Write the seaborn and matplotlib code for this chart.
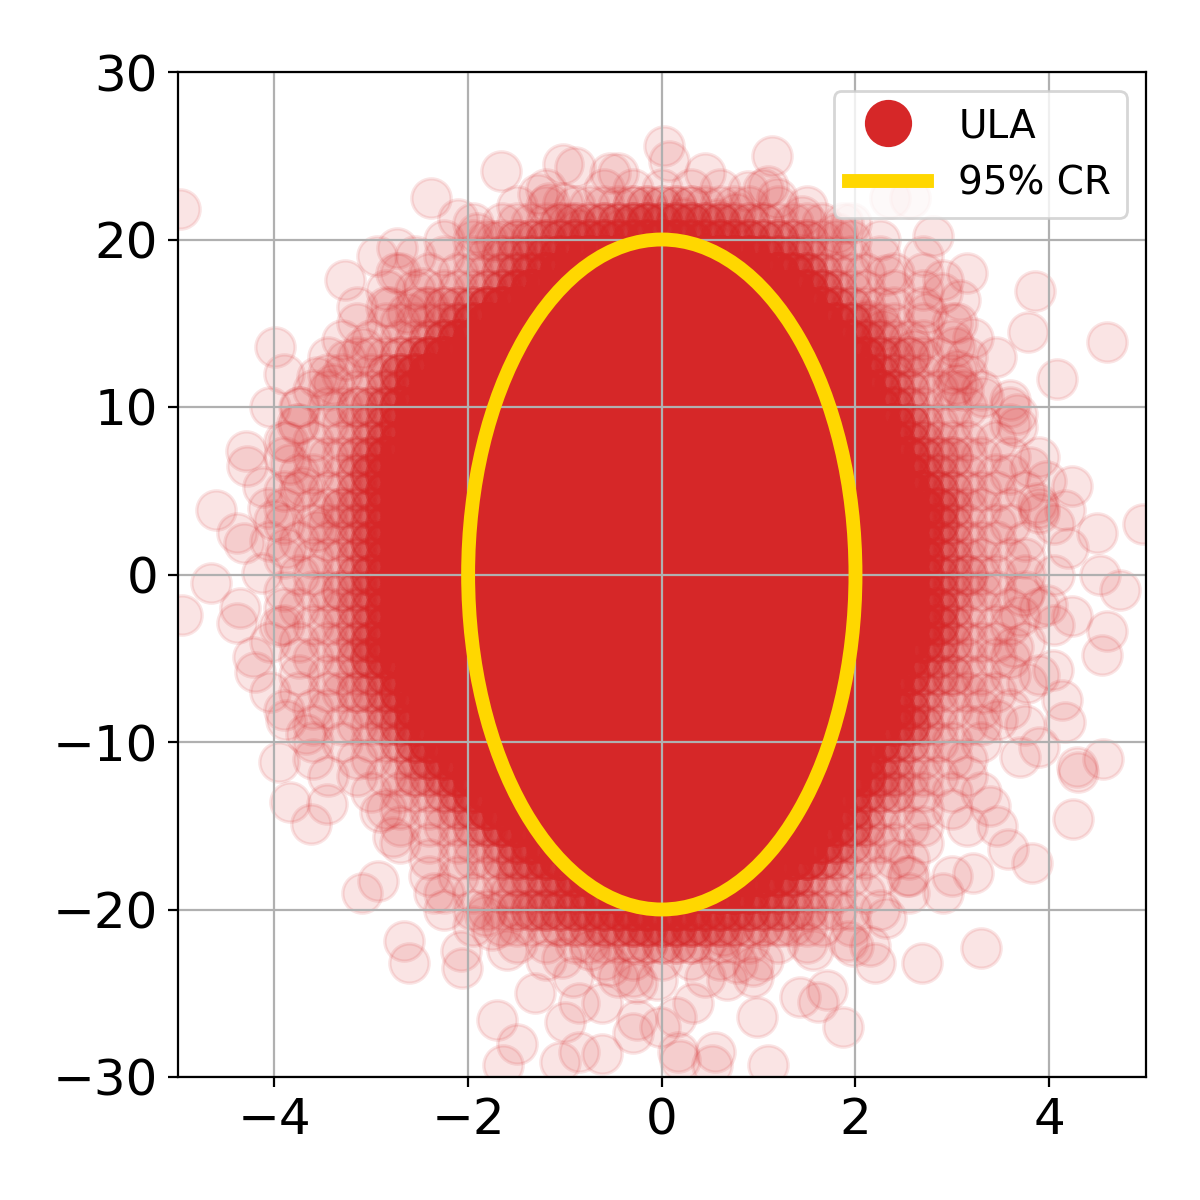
import numpy as np
import matplotlib
matplotlib.use("Agg")
import matplotlib.pyplot as plt
import seaborn as sns
import pandas as pd
from matplotlib.patches import Ellipse
from matplotlib.lines import Line2D

RED = "#d62728"
GOLD = "#ffd700"

# ---------------------------------------------------------------------------
# Data
# ---------------------------------------------------------------------------
# Dense core on bins of 0.15 (x) by 1 (y).  For every row: how many bins
# left / right of x = 0 are saturated (9 stacked samples each), then the
# stacked counts of the fading edge, one digit per bin going outward.
CORE_X = [-4.05, -3.9, -3.75, -3.6, -3.45, -3.3, -3.15, -3.0, -2.85, -2.7,
          -2.55, -2.4, -2.25, -2.1, -1.95, -1.8, -1.65, -1.5, -1.35, -1.2,
          -1.05, -0.9, -0.75, -0.6, -0.45, -0.3, -0.15, 0.0, 0.15, 0.3,
          0.45, 0.6, 0.75, 0.9, 1.05, 1.2, 1.35, 1.5, 1.65, 1.8,
          1.95, 2.1, 2.25, 2.4, 2.55, 2.7, 2.85, 3.0, 3.15, 3.3,
          3.45, 3.6, 3.75, 3.9, 4.05]
CORE_Y = [24, 23, 22, 21, 20, 19, 18, 17, 16, 15, 14, 13, 12, 11, 10, 9, 8,
          7, 6, 5, 4, 3, 2, 1, 0, -1, -2, -3, -4, -5, -6, -7, -8, -9, -10,
          -11, -12, -13, -14, -15, -16, -17, -18, -19, -20, -21, -22, -23, -24]
SOLID_LEFT = [0, 0, 0, 0, 0, 6, 7, 9, 11, 12, 13, 15, 16, 16, 17, 17, 17,
              18, 18, 18, 18, 18, 18, 18, 18, 18, 18, 18, 18, 18, 17, 17, 16,
              16, 15, 14, 13, 12, 11, 10, 8, 7, 5, 3, 0, 0, 0, 0, 0]
SOLID_RIGHT = [0, 0, 0, 0, 0, 7, 9, 10, 11, 12, 13, 14, 14, 15, 15, 16, 16,
               17, 17, 18, 18, 18, 18, 18, 18, 18, 18, 18, 18, 17, 17, 16, 16,
               16, 15, 14, 14, 13, 12, 12, 11, 10, 8, 6, 0, 0, 0, 0, 0]
EDGE_LEFT = [
    "001", "010100010", "221111010100", "443322211110100", "7655443322111010",
    "6432211010100", "6432111010100", "6321110101", "6322110101",
    "6321111010", "7421101010", "6321110100", "6421011001", "7321101100",
    "6322110101", "6321110100", "7421101010", "6321110100", "6421011001",
    "7321101100", "6322110101", "6321110100", "7421101010", "6321110100",
    "6421011001", "6322110101", "7321101100", "6321110100", "7421101010",
    "6421011001", "6321110100", "6322110101", "7321101100", "6321110100",
    "7421101010", "6421011001", "6322110101", "6321110100", "7321101100",
    "6321110100", "6421110101", "6432111010", "6432211010100",
    "6432211101010", "7655443322111010", "443322211110100", "221111010100",
    "010100010", "001",
]
EDGE_RIGHT = [
    "0001", "1010100100", "2221111010100", "4443322211110100",
    "77655443322111010",
    "6432111010010", "6421110101001", "7421101010", "6321110100",
    "7421101010", "6321110100", "6322110101", "7321101100", "6321110100",
    "6421011001", "7421101010", "6321110100", "6322110101", "7321101100",
    "6321110100", "7421101010", "6421011001", "6321110100", "7321101100",
    "6322110101", "6321110100", "7421101010", "6421011001", "6321110100",
    "7321101100", "6322110101", "6321110100", "7421101010", "6421011001",
    "6321110100", "7321101100", "6321110100", "6322110101", "7421101010",
    "6421011001", "6321110100", "7321101100", "6421110101001",
    "6432111010010", "77655443322111010", "4443322211110100",
    "2221111010100", "1010100100", "0001",
]

# Sparse samples, read one by one
TAIL_TOP = [
    (-4.98, 21.8), (-2.38, 22.5), (-1.66, 24.1), (-1.02, 24.5), (-0.9, 24.3),
    (-0.53, 24.0), (-1.28, 22.7), (-1.16, 22.2), (-1.02, 22.2), (-2.1, 21.2),
    (-1.91, 20.4), (-1.72, 19.9), (-1.29, 20.0), (-0.97, 21.0), (-0.85, 20.6),
    (-0.41, 20.7), (-0.15, 21.0), (-2.73, 19.5), (-2.94, 19.0), (-2.74, 18.0),
    (-3.27, 17.6), (-2.47, 17.1), (-2.81, 16.0), (-2.63, 15.6), (-2.43, 16.0),
    (0.02, 25.6), (0.07, 24.7), (1.14, 25.0), (0.89, 22.9), (1.1, 23.2),
    (1.19, 22.5), (0.77, 21.6), (0.57, 21.2), (0.22, 21.3), (1.45, 21.4),
    (1.81, 20.4), (1.87, 21.0), (2.36, 22.5), (2.56, 22.5), (2.8, 20.2),
    (2.32, 17.9), (2.9, 17.6), (2.89, 16.8), (3.08, 16.4), (3.85, 16.9),
    (2.74, 15.6), (3.05, 15.0), (2.12, 15.2),
]
TAIL_LEFT = [
    (-3.99, 13.6), (-3.09, 13.5), (-3.26, 12.8), (-3.56, 11.8), (-3.4, 11.4),
    (-3.74, 10.0), (-3.77, 9.0), (-3.86, 7.9), (-4.29, 7.4), (-4.28, 6.5),
    (-3.84, 6.6), (-4.12, 5.2), (-3.71, 5.2), (-4.6, 3.85), (-4.07, 4.0),
    (-4.0, 3.25), (-4.39, 2.5), (-4.31, 1.9), (-3.88, 1.6), (-3.56, 2.6),
    (-4.13, 0.1), (-4.65, -0.5), (-4.95, -2.4), (-4.36, -2.0), (-4.39, -2.9),
    (-3.95, -3.1), (-4.22, -4.9), (-4.2, -5.8), (-3.9, -8.1), (-3.88, -8.7),
    (-3.67, -9.5), (-3.95, -11.2),
]
TAIL_RIGHT = [
    (4.6, 13.9), (3.78, 14.5), (4.08, 11.7), (3.21, 14.1), (2.6, 13.4),
    (3.03, 13.6), (3.05, 12.2), (3.11, 11.0), (3.32, 10.6), (3.6, 10.4),
    (2.28, 14.6), (3.05, 11.4), (3.67, 9.6), (3.67, 8.8), (3.8, 6.4),
    (3.97, 5.6), (4.24, 5.3), (4.16, 3.85), (3.87, 4.27), (3.9, 3.7),
    (4.49, 2.5), (4.97, 3.0), (4.19, 1.6), (4.52, 0.0), (4.73, -0.9),
    (3.98, -1.8), (3.73, -1.3), (4.24, -2.5), (3.7, -2.5), (4.6, -3.4),
    (3.63, -4.3), (4.55, -4.8), (4.04, -5.7), (3.77, -6.5), (3.32, -7.1),
    (4.13, -7.5), (4.16, -8.8), (3.46, -8.7), (3.9, -10.3), (3.7, -10.9),
    (4.56, -11.0), (4.29, -11.5),
]
TAIL_BOTTOM = [
    (-3.84, -13.6), (-3.62, -14.9), (-3.46, -13.7), (-3.1, -19.0), (-2.93, -18.3),
    (-2.35, -19.0), (-2.66, -21.9), (-2.61, -23.2), (-2.07, -22.5), (-2.06, -23.5),
    (-1.83, -20.4), (-1.75, -21.2), (-1.6, -22.4), (-1.31, -25.0), (-1.7, -26.6),
    (-1.5, -28.0), (-1.64, -29.3), (-1.03, -22.9), (-0.92, -24.0), (-1.0, -26.7),
    (-1.05, -29.1), (-0.85, -28.5), (-0.62, -28.6), (-0.62, -25.6), (-0.26, -26.6),
    (-0.74, -22.4), (-0.54, -23.4), (-0.26, -24.4), (-1.57, -19.0), (-1.29, -20.0),
    (-2.91, -14.2), (-2.78, -15.7), (4.25, -14.6), (4.3, -11.8), (3.82, -17.2),
    (3.57, -16.4), (3.46, -15.0), (3.39, -13.8), (3.21, -17.8), (2.9, -19.0),
    (3.3, -22.3), (2.69, -23.2), (2.2, -23.2), (2.15, -22.2), (1.92, -21.9),
    (1.87, -27.0), (1.71, -24.8), (1.61, -25.5), (1.43, -25.2), (0.98, -26.4),
    (1.1, -29.3), (0.55, -28.5), (0.52, -29.3), (0.17, -28.5), (2.32, -20.5),
    (2.53, -18.0), (1.25, -21.0), (0.94, -23.4), (0.63, -21.6), (0.32, -25.6),
    (0.15, -26.4), (0.67, -24.2), (-0.3, -27.4), (-0.02, -27.0), (0.19, -29.0),
    (-0.85, -25.6), (0.94, -24.0), (1.56, -22.4), (1.97, -22.2), (-0.3, -24.0),
    (-0.05, -24.2), (0.78, -23.2),
]

# 95% credible region (ellipse centre and full axis lengths)
CR_CENTER = (0.0, 0.0)
CR_WIDTH = 4.0
CR_HEIGHT = 40.0

X_TICKS = [-4, -2, 0, 2, 4]
Y_TICKS = [-30, -20, -10, 0, 10, 20, 30]


def core_counts():
    half = len(CORE_X) // 2
    rows = []
    for n_l, n_r, e_l, e_r in zip(SOLID_LEFT, SOLID_RIGHT, EDGE_LEFT, EDGE_RIGHT):
        left = ("9" * n_l + e_l).ljust(half, "0")[:half]
        right = ("9" * n_r + e_r).ljust(half + 1, "0")[:half + 1]
        rows.append([int(ch) for ch in left[::-1] + right])
    return np.array(rows)


def build_samples():
    counts = core_counts().ravel()
    gx, gy = np.meshgrid(CORE_X, CORE_Y)
    core = pd.DataFrame({"x": np.repeat(gx.ravel(), counts),
                         "y": np.repeat(gy.ravel(), counts)})
    tails = pd.DataFrame(TAIL_TOP + TAIL_LEFT + TAIL_RIGHT + TAIL_BOTTOM,
                         columns=["x", "y"])
    return pd.concat([core, tails], ignore_index=True)


def main():
    df = build_samples()

    fig, ax = plt.subplots(figsize=(6, 6), dpi=200)
    fig.subplots_adjust(left=0.148, right=0.955, bottom=0.1025, top=0.94)

    sns.scatterplot(data=df, x="x", y="y", ax=ax, s=200, color=RED,
                    edgecolor=RED, linewidth=1.2, alpha=0.12, legend=False)

    ax.add_patch(Ellipse(CR_CENTER, CR_WIDTH, CR_HEIGHT, fill=False,
                         edgecolor=GOLD, linewidth=5, zorder=3))

    ax.set_xlim(-5, 5)
    ax.set_ylim(-30, 30)
    ax.set_xticks(X_TICKS)
    ax.set_yticks(Y_TICKS)
    ax.tick_params(labelsize=18)
    ax.set_xlabel("")
    ax.set_ylabel("")
    ax.grid(True)

    handles = [
        Line2D([], [], marker="o", linestyle="", color=RED, markersize=16),
        Line2D([], [], color=GOLD, linewidth=5),
    ]
    ax.legend(handles, ["ULA", "95% CR"], loc="upper right", fontsize=14)

    fig.savefig("out.png", dpi=200)
    plt.close(fig)


if __name__ == "__main__":
    main()
